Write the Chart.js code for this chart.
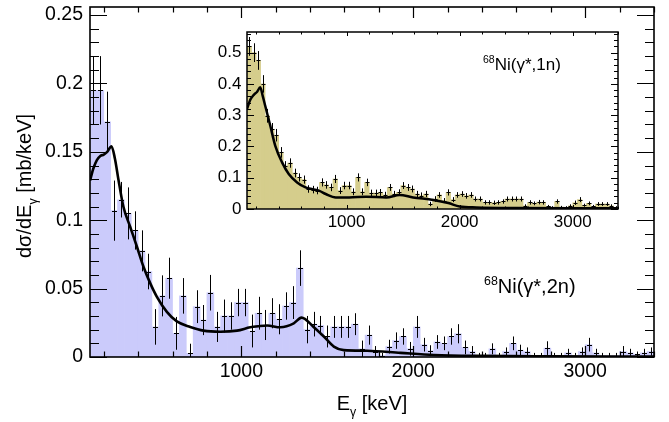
<!DOCTYPE html>
<html>
<head>
<meta charset="utf-8">
<script src="https://cdn.jsdelivr.net/npm/chart.js@4.4.0/dist/chart.umd.min.js"></script>
<style>
html,body{margin:0;padding:0;background:#ffffff;}
#wrap{position:relative;width:669px;height:422px;overflow:hidden;}
#wrap canvas{position:absolute;left:0;top:0;}
</style>
</head>
<body>
<div id="wrap">
<canvas id="mainChart" width="669" height="422"></canvas>
<canvas id="insetChart" width="669" height="422"></canvas>
</div>
<script>
// ---------------- DATA ----------------
// bin centres (keV), 40 keV bins
const energies = [140,180,220,260,300,340,380,420,460,500,540,580,620,660,700,740,780,820,860,900,940,980,1020,1060,1100,1140,1180,1220,1260,1300,1340,1380,1420,1460,1500,1540,1580,1620,1660,1700,1740,1780,1820,1860,1900,1940,1980,2020,2060,2100,2140,2180,2220,2260,2300,2340,2380,2420,2460,2500,2540,2580,2620,2660,2700,2740,2780,2820,2860,2900,2940,2980,3020,3060,3100,3140,3180,3220,3260,3300,3340,3380];

// 68Ni(gamma*,2n) histogram (mb/keV) and errors
const xs2n = [0.195,0.195,0.172,0.107,0.115,0.105,0.0925,0.0776,0.0625,0.022,
  0.0447,0.0576,0.0173,0.0447,0.0027,0.0368,0.027,0.047,0.022,0.030,
  0.030,0.0398,0.0398,0.019,0.032,0.0234,0.032,0.0276,0.0373,0.0398,
  0.065,0.020,0.024,0.023,0.015,0.022,0.022,0.022,0.024,0.006,
  0.016,0.004,0.001,0.0076,0.012,0.015,0.006,0.022,0.009,0.0046,
  0.011,0.010,0.015,0.017,0.007,0.004,0.001,0.001,0.006,0.001,
  0.004,0.010,0.005,0.004,0.001,0.001,0.0065,0.001,0.001,0.003,
  0.001,0.004,0.009,0.003,0.001,0.001,0.001,0.004,0.003,0.002,
  0.003,0.004];
const err2n = [0.025,0.025,0.022,0.022,0.013,0.019,0.014,0.015,0.013,0.013,
  0.015,0.015,0.012,0.013,0.007,0.012,0.011,0.013,0.011,0.012,
  0.010,0.010,0.010,0.012,0.012,0.011,0.011,0.011,0.010,0.012,
  0.013,0.010,0.009,0.007,0.008,0.008,0.008,0.008,0.008,0.006,
  0.007,0.004,0.002,0.005,0.006,0.006,0.005,0.008,0.005,0.004,
  0.005,0.005,0.006,0.007,0.005,0.004,0.002,0.002,0.004,0.002,
  0.003,0.005,0.004,0.003,0.002,0.002,0.005,0.002,0.002,0.003,
  0.002,0.003,0.005,0.003,0.002,0.002,0.002,0.004,0.003,0.002,
  0.003,0.003];

// 68Ni(gamma*,1n) histogram (mb/keV) and errors
const xs1n = [0.52,0.50,0.475,0.40,0.298,0.255,0.236,0.181,0.138,0.147,
  0.115,0.101,0.094,0.064,0.062,0.059,0.085,0.077,0.069,0.096,
  0.059,0.075,0.075,0.055,0.101,0.055,0.085,0.051,0.051,0.053,
  0.045,0.069,0.048,0.053,0.075,0.069,0.064,0.048,0.043,0.048,
  0.016,0.032,0.045,0.027,0.053,0.030,0.045,0.048,0.042,0.045,
  0.032,0.032,0.021,0.021,0.020,0.021,0.024,0.032,0.032,0.032,
  0.032,0.010,0.021,0.018,0.022,0.021,0.008,0.005,0.024,0.006,
  0.005,0.010,0.020,0.030,0.012,0.018,0.008,0.016,0.016,0.016,
  0.010,0.005];
const err1n = [0.03,0.03,0.03,0.028,0.022,0.02,0.02,0.017,0.015,0.015,
  0.014,0.013,0.013,0.012,0.012,0.012,0.013,0.012,0.012,0.013,
  0.011,0.012,0.012,0.011,0.013,0.011,0.012,0.011,0.011,0.011,
  0.010,0.011,0.010,0.010,0.011,0.011,0.011,0.010,0.010,0.010,
  0.007,0.009,0.009,0.008,0.010,0.008,0.009,0.009,0.009,0.009,
  0.008,0.008,0.007,0.007,0.007,0.007,0.007,0.008,0.008,0.008,
  0.008,0.005,0.007,0.006,0.007,0.007,0.005,0.004,0.007,0.004,
  0.004,0.005,0.007,0.008,0.005,0.006,0.005,0.006,0.006,0.006,
  0.005,0.004];

// model curves
const curve2nE = [120,140,160,180,200,220,245,265,285,314,353,392,431,470,509,567,625,703,780,878,975,1052,1100,1150,1227,1305,1350,1420,1480,1538,1596,1732,1926,2120,2400,2800,3400];
const curve2nY = [0.129,0.138,0.144,0.147,0.148,0.150,0.154,0.145,0.130,0.110,0.0954,0.081,0.066,0.054,0.044,0.033,0.026,0.022,0.0193,0.0185,0.0193,0.0217,0.0225,0.023,0.0217,0.0246,0.0288,0.022,0.015,0.0076,0.005,0.0046,0.003,0.0015,0.0008,0.0005,0.0003];
const curve1nE = [120,150,180,210,237,260,281,326,370,430,489,563,638,700,760,816,905,1024,1173,1351,1469,1588,1766,1900,2000,2150,2500,3000,3400];
const curve1nY = [0.32,0.35,0.365,0.375,0.389,0.36,0.33,0.266,0.202,0.149,0.112,0.085,0.069,0.063,0.058,0.048,0.037,0.037,0.039,0.037,0.045,0.037,0.029,0.019,0.008,0.005,0.003,0.002,0.002];

// ticks
const xTickValues = [1000,2000,3000];
const xTickLabels = ['1000','2000','3000'];
const yMainTickValues = [0,0.05,0.1,0.15,0.2,0.25];
const yMainTickLabels = ['0','0.05','0.1','0.15','0.2','0.25'];
const yInsetTickValues = [0,0.1,0.2,0.3,0.4,0.5];
const yInsetTickLabels = ['0','0.1','0.2','0.3','0.4','0.5'];

// text
const yTitle = [{t:'d\u03c3/dE'},{t:'\u03b3',sub:true},{t:' [mb/keV]'}];
const xTitle = [{t:'E'},{t:'\u03b3',sub:true},{t:' [keV]'}];
const label2n = [{t:'68',sup:true},{t:'Ni(\u03b3*,2n)'}];
const label1n = [{t:'68',sup:true},{t:'Ni(\u03b3*,1n)'}];

// ---------------- HELPERS ----------------
const FONT = "'Liberation Sans', Arial, Helvetica, sans-serif";

function drawRich(ctx, parts, x, y, size, align) {
  const segs = parts.map(p => {
    const s = (p.sub || p.sup) ? size * 0.62 : size;
    ctx.font = s + 'px ' + FONT;
    return {t: p.t, s: s, w: ctx.measureText(p.t).width,
            dy: p.sub ? size * 0.28 : (p.sup ? -size * 0.42 : 0)};
  });
  const total = segs.reduce((a, s) => a + s.w, 0);
  let cx = align === 'center' ? x - total / 2 : x;
  ctx.fillStyle = '#000';
  ctx.textBaseline = 'alphabetic';
  ctx.textAlign = 'left';
  segs.forEach(s => {
    ctx.font = s.s + 'px ' + FONT;
    ctx.fillText(s.t, cx, y + s.dy);
    cx += s.w;
  });
}

function errorBarPlugin(o) {
  return {
    id: 'err_' + o.name,
    afterDatasetDraw(chart, args) {
      if (args.index !== o.barIndex) return;
      const ctx = chart.ctx, xsc = chart.scales.x, ysc = chart.scales.y, a = chart.chartArea;
      ctx.save();
      ctx.beginPath();
      ctx.rect(a.left, a.top, a.right - a.left, a.bottom - a.top);
      ctx.clip();
      ctx.strokeStyle = '#000';
      ctx.lineWidth = o.lw;
      ctx.beginPath();
      o.x.forEach((e, i) => {
        const px = Math.round(xsc.getPixelForValue(e)) + 0.5;
        const v = o.y[i], er = o.err[i];
        const yl = ysc.getPixelForValue(Math.max(0, v - er));
        const yh = ysc.getPixelForValue(v + er);
        const yc = Math.round(ysc.getPixelForValue(v)) + 0.5;
        ctx.moveTo(px, yl); ctx.lineTo(px, yh);
        ctx.moveTo(px - o.hw, yc); ctx.lineTo(px + o.hw, yc);
      });
      ctx.stroke();
      ctx.restore();
    }
  };
}

function framePlugin(o) {
  return {
    id: 'frame_' + o.name,
    afterDraw(chart) {
      const ctx = chart.ctx, xsc = chart.scales.x, ysc = chart.scales.y, a = chart.chartArea;
      ctx.save();
      ctx.strokeStyle = '#000000';
      ctx.lineWidth = o.tickLw;
      const xmin = xsc.min, xmax = xsc.max, ymax = ysc.max;
      // x ticks (bottom & top, pointing inward)
      const k0 = Math.ceil(xmin / o.xMinor);
      for (let k = k0; k * o.xMinor <= xmax + 1e-9; k++) {
        const v = k * o.xMinor;
        const major = (k % o.xPer) === 0;
        const L = major ? o.xMajLen : o.xMinLen;
        const px = Math.round(xsc.getPixelForValue(v)) + 0.5;
        ctx.beginPath();
        ctx.moveTo(px, a.bottom); ctx.lineTo(px, a.bottom - L);
        ctx.moveTo(px, a.top); ctx.lineTo(px, a.top + L);
        ctx.stroke();
      }
      // y ticks (left & right, pointing inward)
      for (let k = 0; k * o.yMinor <= ymax + 1e-9; k++) {
        const v = k * o.yMinor;
        const major = (k % o.yPer) === 0;
        const L = major ? o.yMajLen : o.yMinLen;
        const py = Math.round(ysc.getPixelForValue(v)) + 0.5;
        ctx.beginPath();
        ctx.moveTo(a.left, py); ctx.lineTo(a.left + L, py);
        ctx.moveTo(a.right, py); ctx.lineTo(a.right - L, py);
        ctx.stroke();
      }
      ctx.lineWidth = o.frameLw;
      ctx.strokeRect(a.left, a.top, a.right - a.left, a.bottom - a.top);
      ctx.restore();
      if (o.texts) o.texts(ctx, chart);
    }
  };
}

function makeChart(canvasId, cfg) {
  const ctx = document.getElementById(canvasId).getContext('2d');
  return new Chart(ctx, {
    data: {
      datasets: [
        {type: 'line', data: cfg.curveE.map((e, i) => ({x: e, y: cfg.curveY[i]})),
          borderColor: '#000', borderWidth: cfg.curveLw, pointRadius: 0,
          cubicInterpolationMode: 'monotone', fill: false, order: 0},
        {type: 'bar', data: energies.map((e, i) => ({x: e, y: cfg.vals[i]})),
          backgroundColor: cfg.barColor, borderWidth: 0, barPercentage: 1,
          categoryPercentage: 1, grouped: false, order: 2}
      ]
    },
    options: {
      responsive: false, animation: false, devicePixelRatio: 1, events: [],
      layout: {padding: cfg.padding},
      plugins: {legend: {display: false}, tooltip: {enabled: false}, title: {display: false}},
      scales: {
        x: {
          type: 'linear', min: 120, max: 3400, offset: false,
          afterBuildTicks: s => { s.ticks = xTickValues.map(v => ({value: v})); },
          afterFit: s => { s.height = cfg.xAxisH; s.paddingLeft = 0; s.paddingRight = 0; },
          ticks: {autoSkip: false, maxRotation: 0, minRotation: 0, color: '#000',
            padding: cfg.xPad, font: {family: FONT, size: cfg.fontSize},
            callback: (v, i) => xTickLabels[i]},
          grid: {display: false, drawTicks: false, offset: false},
          border: {display: false}
        },
        y: {
          type: 'linear', min: 0, max: cfg.yMax,
          afterBuildTicks: s => { s.ticks = cfg.yTicks.map(v => ({value: v})); },
          afterFit: s => { s.width = cfg.yAxisW; s.paddingTop = 0; s.paddingBottom = 0; },
          ticks: {autoSkip: false, color: '#000', padding: cfg.yPad,
            font: {family: FONT, size: cfg.fontSize},
            callback: (v, i) => cfg.yLabels[i]},
          grid: {display: false, drawTicks: false},
          border: {display: false}
        }
      }
    },
    plugins: [
      errorBarPlugin({name: canvasId, barIndex: 1, x: energies, y: cfg.vals, err: cfg.errs, lw: 1, hw: cfg.hw}),
      framePlugin(Object.assign({name: canvasId}, cfg.frame))
    ]
  });
}

// ---------------- MAIN CHART ----------------
makeChart('mainChart', {
  vals: xs2n, errs: err2n, curveE: curve2nE, curveY: curve2nY,
  barColor: '#cbcbfb', curveLw: 2.6, hw: 2.5,
  yMax: 0.2559, yTicks: yMainTickValues, yLabels: yMainTickLabels,
  fontSize: 19.5, xPad: 3, yPad: 7, xAxisH: 65, yAxisW: 90,
  padding: {top: 7, right: 15, left: 0, bottom: 0},
  frame: {
    tickLw: 1.2, frameLw: 1.6,
    xMinor: 200, xPer: 5, xMajLen: 11, xMinLen: 5.5,
    yMinor: 0.01, yPer: 5, yMajLen: 17, yMinLen: 9,
    texts: (ctx, chart) => {
      const a = chart.chartArea;
      ctx.save();
      ctx.translate(31, (a.top + a.bottom) / 2 + 4);
      ctx.rotate(-Math.PI / 2);
      drawRich(ctx, yTitle, 0, 0, 20, 'center');
      ctx.restore();
      drawRich(ctx, xTitle, (a.left + a.right) / 2, 410, 20, 'center');
      drawRich(ctx, label2n, 484, 293, 20, 'left');
    }
  }
});

// ---------------- INSET CHART ----------------
makeChart('insetChart', {
  vals: xs1n, errs: err1n, curveE: curve1nE, curveY: curve1nY,
  barColor: '#d5cd8c', curveLw: 2.5, hw: 2,
  yMax: 0.566, yTicks: yInsetTickValues, yLabels: yInsetTickLabels,
  fontSize: 17, xPad: 3.5, yPad: 5.5, xAxisH: 213, yAxisW: 247,
  padding: {top: 32, right: 51, left: 0, bottom: 0},
  frame: {
    tickLw: 1, frameLw: 1.5,
    xMinor: 200, xPer: 5, xMajLen: 4, xMinLen: 2.5,
    yMinor: 0.02, yPer: 5, yMajLen: 7, yMinLen: 4,
    texts: (ctx, chart) => {
      drawRich(ctx, label1n, 483, 70, 17, 'left');
    }
  }
});
</script>
</body>
</html>
